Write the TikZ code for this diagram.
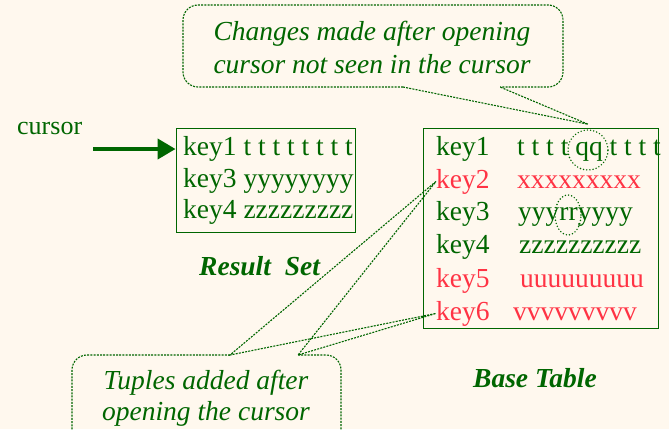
\documentclass[tikz,border=0pt]{standalone}
\usepackage{fontspec}
\setmainfont{Liberation Serif}
\usetikzlibrary{arrows.meta,positioning,shapes.geometric}
\definecolor{bgcol}{RGB}{255,248,238}
\definecolor{tgreen}{RGB}{0,102,0}
\definecolor{tred}{RGB}{255,51,68}

\begin{document}
\begin{tikzpicture}[x=1pt,y=-1pt,
row/.style={anchor=base west,inner sep=0pt,font=\fontsize{27.5}{31}\selectfont},
rowg/.style={row,text=tgreen},
rowr/.style={row,text=tred},
note/.style={align=center,inner sep=0pt,text=tgreen,font=\fontsize{27.5}{33}\selectfont\itshape},
caption/.style={anchor=base west,inner sep=0pt,text=tgreen,font=\fontsize{27.5}{31}\selectfont\bfseries\itshape},
tbl/.style={draw=tgreen,line width=0.9pt,inner sep=0pt},
bubble/.style={draw=tgreen,line width=1.1pt,dash pattern=on 2pt off 1.2pt,rounded corners=15pt},
ptr/.style={draw=tgreen,line width=1.1pt,dash pattern=on 2pt off 1.2pt},
ring/.style={draw=tgreen,line width=1.6pt,line cap=round,dash pattern=on 0pt off 3.2pt,inner sep=0pt}]
 \fill[bgcol] (0,0) rectangle (669,429);
 \useasboundingbox (0,0) rectangle (669,429);
 % result set
 \node[tbl,minimum width=179pt,minimum height=104pt] (rs) at (265.5,180) {};
 \node[rowg] (r1) at (183,155) {key1 t t t t t t t t};
 \node[rowg] (r3) at (183,187) {key3 yyyyyyyy};
 \node[rowg] (r4) at (183,218) {key4 zzzzzzzzz};
 \node[caption] (rslbl) at (199,275) {Result\ \ Set};
 \node[rowg,font=\fontsize{26}{31}\selectfont] (cur) at (17,134) {cursor};
 \coordinate (curtail) at (93,149);
 \draw[line width=4pt,tgreen,-{Triangle[length=18pt,width=20pt]}] (curtail) -- (rs.west |- curtail);
 % base table
 \node[tbl,minimum width=235pt,minimum height=200pt] (bt) at (540.5,228) {};
 \foreach \n/\y/\vx/\val/\c in {1/155/517/t t t t qq t t t t/rowg,2/188/517/xxxxxxxxx/rowr,
   3/220/518/yyyrryyyy/rowg,4/253/519/zzzzzzzzzz/rowg,5/287/520/uuuuuuuuu/rowr,6/320/513/vvvvvvvvv/rowr}
  {\node[\c] (k\n) at (436,\y) {key\n};
   \node[\c] (v\n) at (\vx,\y) {\val};}
 \node[ring,circle,minimum size=40pt] (qq) at (588,150) {};
 \node[ring,ellipse,minimum width=26pt,minimum height=40pt] (rr) at (568,215) {};
 \node[caption] (btlbl) at (473,387) {Base Table};
 % top note
 \node[note] (chg) at (372,47) {Changes made after opening\\cursor not seen in the cursor};
 \coordinate (cl) at (403,87);
 \coordinate (cr) at (500,87);
 \coordinate[above=5pt of qq] (qtip);
 \draw[bubble] (cl) -- (183,87) -- (183,5) -- (563,5) -- (563,87) -- (cr);
 \draw[ptr] (cl) -- (qtip) -- (cr);
 % bottom note
 \node[note,font=\fontsize{27.5}{31}\selectfont\itshape] (tup) at (206,398) {Tuples added after\\opening the cursor};
 \coordinate (bl) at (230,355);
 \coordinate (br) at (298,355);
 \draw[bubble] (bl) -- (72,355) -- (72,440);
 \draw[bubble] (br) -- (341,355) -- (341,440);
 \draw[ptr] (k2.west) -- (bl) -- (k6.west) -- (br) -- cycle;
\end{tikzpicture}
\end{document}
